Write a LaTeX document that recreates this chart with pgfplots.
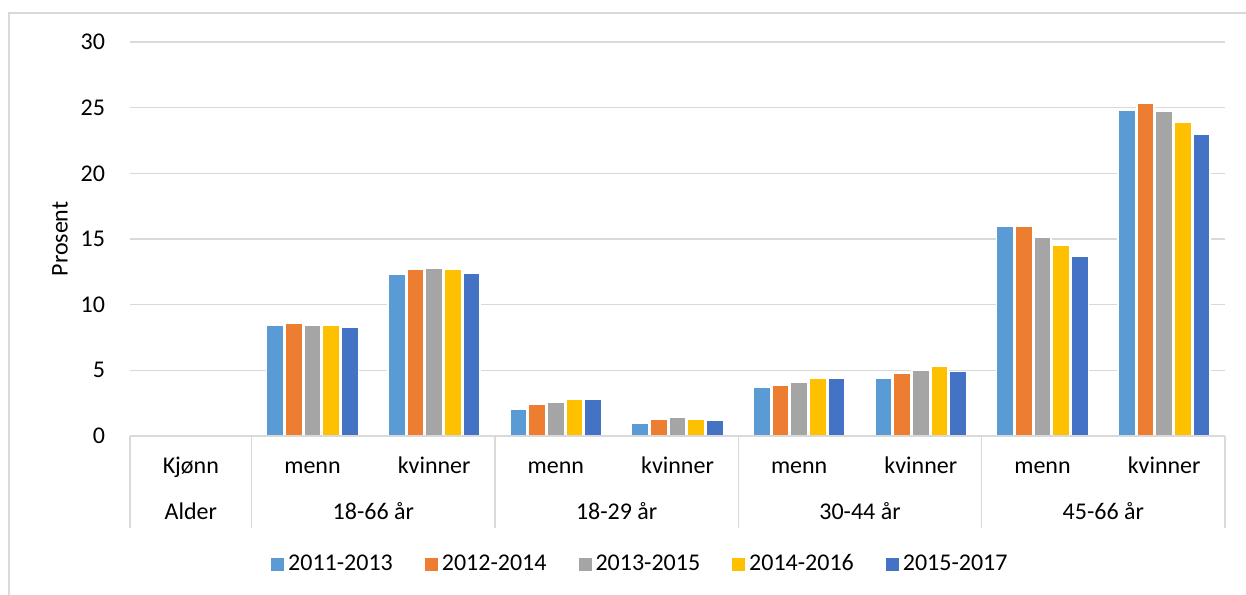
\documentclass[border=0pt]{standalone}
\usepackage{pgfplots}
\pgfplotsset{compat=1.18}
\usepackage{pgfplotstable}
\usepackage{fontspec}
\setmainfont{Carlito}
\definecolor{cA}{HTML}{5B9BD5}
\definecolor{cB}{HTML}{ED7D31}
\definecolor{cC}{HTML}{A5A5A5}
\definecolor{cD}{HTML}{FFC000}
\definecolor{cE}{HTML}{4472C4}
\definecolor{lgray}{HTML}{D9D9D9}
\pgfplotstableread{
x y
1 8.4
2 12.3
3 2.0
4 1.0
5 3.7
6 4.4
7 16.0
8 24.8
}\dA
\pgfplotstableread{
x y
1 8.6
2 12.7
3 2.4
4 1.3
5 3.9
6 4.8
7 16.0
8 25.3
}\dB
\pgfplotstableread{
x y
1 8.4
2 12.8
3 2.6
4 1.4
5 4.1
6 5.0
7 15.1
8 24.7
}\dC
\pgfplotstableread{
x y
1 8.4
2 12.7
3 2.8
4 1.3
5 4.4
6 5.3
7 14.5
8 23.9
}\dD
\pgfplotstableread{
x y
1 8.3
2 12.4
3 2.8
4 1.2
5 4.4
6 4.9
7 13.7
8 23.0
}\dE
\newcommand{\rowA}[2]{\node[anchor=base, inner sep=0pt] at (axis cs:#1,-2.89) {#2};}
\newcommand{\rowB}[2]{\node[anchor=base, inner sep=0pt] at (axis cs:#1,-6.32) {#2};}
\newcommand{\sep}[1]{\draw[lgray, line width=0.75pt] (axis cs:#1,0) -- (axis cs:#1,-7.0);}
\begin{document}
\begin{tikzpicture}[font=\fontsize{12}{14}\selectfont]
\useasboundingbox (0,0) rectangle (623pt,297pt);
\begin{scope}
\clip (0,0) rectangle (623pt,297pt);
\draw[lgray, line width=0.75pt] (4.5pt,-20pt) rectangle (660pt,290.5pt);
\end{scope}
\begin{axis}[
  at={(65pt,79pt)}, anchor=south west,
  width=547.5pt, height=197pt, scale only axis,
  xmin=-0.5, xmax=8.5, ymin=0, ymax=30,
  ytick={0,5,...,30}, xtick=\empty,
  ymajorgrids, grid style={lgray, line width=0.75pt},
  axis line style={draw=none},
  major tick length=0pt,
  tick label style={font=\fontsize{12}{14}\selectfont},
  /pgf/number format/assume math mode=true,
  yticklabel style={xshift=-9pt},
  ybar=0.75pt, bar width=8.6pt,
  clip=false,
  legend columns=5,
  legend style={draw=none, at={(0.467,-0.325)}, anchor=center,
    font=\fontsize{12}{14}\selectfont,
    /tikz/every even column/.append style={column sep=14pt}},
  legend image code/.code={\fill[#1, draw=none] (0pt,-3.25pt) rectangle (6.5pt,3.25pt);},
]
\addplot[fill=cA, draw=white, line width=0.75pt] table[x=x,y=y]{\dA};
\addplot[fill=cB, draw=white, line width=0.75pt] table[x=x,y=y]{\dB};
\addplot[fill=cC, draw=white, line width=0.75pt] table[x=x,y=y]{\dC};
\addplot[fill=cD, draw=white, line width=0.75pt] table[x=x,y=y]{\dD};
\addplot[fill=cE, draw=white, line width=0.75pt] table[x=x,y=y]{\dE};
\legend{2011-2013,2012-2014,2013-2015,2014-2016,2015-2017}
\draw[lgray, line width=0.75pt] (axis cs:-0.5,0) -- (axis cs:8.5,0);
\sep{-0.5}\sep{0.5}\sep{2.5}\sep{4.5}\sep{6.5}\sep{8.5}
\rowA{0}{Kjønn}\rowA{1}{menn}\rowA{2}{kvinner}\rowA{3}{menn}\rowA{4}{kvinner}
\rowA{5}{menn}\rowA{6}{kvinner}\rowA{7}{menn}\rowA{8}{kvinner}
\rowB{0}{Alder}\rowB{1.5}{18-66 år}\rowB{3.5}{18-29 år}\rowB{5.5}{30-44 år}\rowB{7.5}{45-66 år}
\node[rotate=90, inner sep=0pt] at (axis cs:-1.075,15) {Prosent};
\end{axis}
\end{tikzpicture}
\end{document}
